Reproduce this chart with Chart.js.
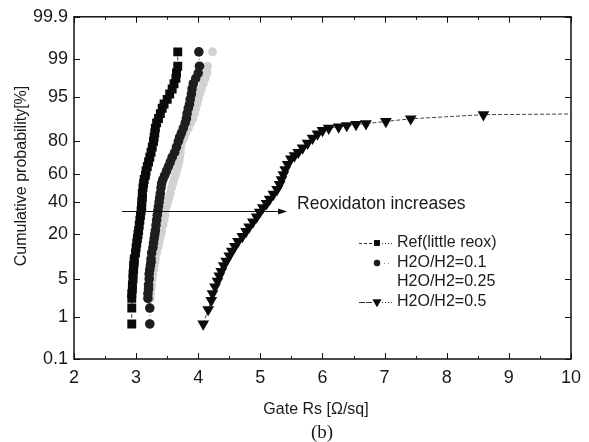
<!DOCTYPE html>
<html>
<head>
<meta charset="utf-8">
<script src="https://cdn.jsdelivr.net/npm/chart.js@4.4.1/dist/chart.umd.min.js"></script>
<style>
  html, body { margin: 0; padding: 0; background: #fff; }
  #wrap { width: 589px; height: 442px; }
</style>
</head>
<body>
<div id="wrap"><canvas id="chart" width="589" height="442"></canvas></div>
<script>
// cumulative probability [%] shared by the three narrow distributions
const cumProb = [0.7, 1.5, 2.3, 2.8, 3.4, 4, 5, 6, 7, 8, 9, 10, 12, 14, 16, 18, 20, 22, 25, 28,
  31, 34, 37, 40, 43, 46, 50, 53, 56, 59, 62, 65, 68, 71, 74, 77, 80, 82, 84, 86,
  88, 89.5, 91, 92.5, 93.5, 94.5, 95.5, 96.3, 97, 97.6, 98.1, 98.6, 99.3];

// Gate Rs [ohm/sq]
const rsRef = [2.93, 2.93, 2.93, 2.93, 2.94, 2.94, 2.95, 2.95, 2.96, 2.96, 2.97, 2.97, 2.99, 3.00, 3.01, 3.02, 3.03, 3.04, 3.05, 3.06,
  3.07, 3.08, 3.09, 3.09, 3.10, 3.10, 3.11, 3.12, 3.13, 3.15, 3.16, 3.18, 3.20, 3.22, 3.24, 3.26, 3.28, 3.29, 3.30, 3.31,
  3.33, 3.36, 3.39, 3.42, 3.45, 3.50, 3.54, 3.58, 3.61, 3.64, 3.65, 3.67, 3.67];
const rsH01 = [3.22, 3.22, 3.19, 3.19, 3.20, 3.20, 3.21, 3.21, 3.22, 3.23, 3.24, 3.24, 3.25, 3.27, 3.28, 3.29, 3.30, 3.31, 3.32, 3.33,
  3.34, 3.35, 3.36, 3.37, 3.38, 3.39, 3.40, 3.41, 3.43, 3.46, 3.49, 3.52, 3.55, 3.58, 3.62, 3.65, 3.68, 3.70, 3.73, 3.76,
  3.79, 3.81, 3.82, 3.84, 3.86, 3.87, 3.89, 3.90, 3.92, 3.96, 4.00, 4.02, 4.01];
const rsH025 = [3.22, 3.22, 3.23, 3.23, 3.24, 3.25, 3.26, 3.27, 3.28, 3.29, 3.30, 3.31, 3.33, 3.35, 3.37, 3.38, 3.40, 3.41, 3.43, 3.45,
  3.46, 3.47, 3.49, 3.51, 3.53, 3.55, 3.57, 3.59, 3.61, 3.63, 3.65, 3.67, 3.69, 3.70, 3.71, 3.72, 3.74, 3.77, 3.80, 3.84,
  3.88, 3.91, 3.94, 3.96, 3.98, 4.00, 4.02, 4.05, 4.08, 4.11, 4.14, 4.15, 4.23];

// H2O/H2=0.5 has its own probability levels (tail runs past 10 ohm/sq)
const cumProbH05 = [0.7, 1.4, 2.1, 2.8, 3.7, 4.6, 5.6, 6.6, 8, 9.3, 11, 12.7, 14.5, 16.7, 19, 21.6, 24, 27, 30, 33,
  36, 39, 42, 45.5, 49, 52.5, 56, 59.5, 63, 66.5, 70, 72, 74, 76.5, 79, 81.5, 83.5, 85, 86, 86.5,
  87, 87.4, 87.7, 88.5, 89.4, 90.7, 91.2];
const rsH05 = [4.08, 4.16, 4.21, 4.23, 4.27, 4.31, 4.34, 4.37, 4.41, 4.45, 4.50, 4.54, 4.59, 4.64, 4.71, 4.77, 4.82, 4.88, 4.94, 4.99,
  5.04, 5.10, 5.15, 5.21, 5.27, 5.31, 5.34, 5.37, 5.40, 5.44, 5.49, 5.55, 5.61, 5.68, 5.76, 5.84, 5.92, 6.00, 6.10, 6.26,
  6.39, 6.54, 6.70, 7.02, 7.42, 8.59, 12.0];

const yTickProbs = [0.1, 1, 5, 20, 40, 60, 80, 95, 99, 99.9];
const seriesNames = ['Ref(little reox)', 'H2O/H2=0.1', 'H2O/H2=0.25', 'H2O/H2=0.5'];
const arrowFrom = 2.77, arrowTo = 5.43, arrowProb = 34;

// inverse normal CDF (Acklam) -> probability axis
function probit(p) {
  const a = [-3.969683028665376e+01, 2.209460984245205e+02, -2.759285104469687e+02, 1.383577518672690e+02, -3.066479806614716e+01, 2.506628277459239e+00];
  const b = [-5.447609879822406e+01, 1.615858368580409e+02, -1.556989798598866e+02, 6.680131188771972e+01, -1.328068155288572e+01];
  const c = [-7.784894002430293e-03, -3.223964580411365e-01, -2.400758277161838e+00, -2.549732539343734e+00, 4.374664141464968e+00, 2.938163982698783e+00];
  const d = [7.784695709041462e-03, 3.224671290700398e-01, 2.445134137142996e+00, 3.754408661907416e+00];
  const pl = 0.02425;
  if (p < pl) {
    const q = Math.sqrt(-2 * Math.log(p));
    return (((((c[0]*q+c[1])*q+c[2])*q+c[3])*q+c[4])*q+c[5]) / ((((d[0]*q+d[1])*q+d[2])*q+d[3])*q+1);
  }
  if (p > 1 - pl) {
    const q = Math.sqrt(-2 * Math.log(1 - p));
    return -(((((c[0]*q+c[1])*q+c[2])*q+c[3])*q+c[4])*q+c[5]) / ((((d[0]*q+d[1])*q+d[2])*q+d[3])*q+1);
  }
  const q = p - 0.5, r = q * q;
  return (((((a[0]*r+a[1])*r+a[2])*r+a[3])*r+a[4])*r+a[5])*q / (((((b[0]*r+b[1])*r+b[2])*r+b[3])*r+b[4])*r+1);
}

const toPoints = (xs, ps) => xs.map((x, i) => ({ x: x, y: probit(ps[i] / 100) }));

const styles = [
  { pointStyle: 'rect', radius: 6.3, color: '#0a0a0a', dash: [4, 2] },
  { pointStyle: 'circle', radius: 4.8, color: '#1e1e1e', dash: [1, 3] },
  { pointStyle: 'circle', radius: 4.5, color: '#d2d2d2', dash: [] },
  { pointStyle: 'triangle', radius: 6.8, color: '#0a0a0a', dash: [4, 2], rotation: 180 }
];

const font = '"Liberation Sans", Arial, sans-serif';

// frame, inward ticks, titles, arrow and legend
const decor = {
  id: 'decor',
  afterDraw(chart) {
    const { ctx, chartArea: a, scales: { x, y } } = chart;
    ctx.save();
    ctx.strokeStyle = '#111';
    ctx.lineWidth = 1.5;
    ctx.strokeRect(a.left, a.top, a.right - a.left, a.bottom - a.top);
    ctx.lineWidth = 1;
    ctx.beginPath();
    for (let v = 2; v <= 10; v += 0.5) {
      const px = Math.round(x.getPixelForValue(v)) + 0.5;
      const len = Number.isInteger(v) ? 6 : 3;
      ctx.moveTo(px, a.bottom); ctx.lineTo(px, a.bottom - len);
      ctx.moveTo(px, a.top); ctx.lineTo(px, a.top + len);
    }
    yTickProbs.forEach(p => {
      const py = Math.round(y.getPixelForValue(probit(p / 100))) + 0.5;
      ctx.moveTo(a.left, py); ctx.lineTo(a.left + 6, py);
      ctx.moveTo(a.right, py); ctx.lineTo(a.right - 6, py);
    });
    ctx.stroke();

    // arrow
    const ay = Math.round(y.getPixelForValue(probit(arrowProb / 100))) + 0.5;
    const ax0 = x.getPixelForValue(arrowFrom), ax1 = x.getPixelForValue(arrowTo);
    ctx.beginPath();
    ctx.moveTo(ax0, ay); ctx.lineTo(ax1 - 6, ay);
    ctx.stroke();
    ctx.fillStyle = '#111';
    ctx.beginPath();
    ctx.moveTo(ax1, ay); ctx.lineTo(ax1 - 9, ay - 3); ctx.lineTo(ax1 - 9, ay + 3);
    ctx.closePath(); ctx.fill();

    ctx.fillStyle = '#1a1a1a';
    ctx.font = '17.5px ' + font;
    ctx.textBaseline = 'middle';
    ctx.textAlign = 'left';
    ctx.fillText('Reoxidaton increases', ax1 + 10, ay - 7);

    // legend
    const rows = [243, 263, 282, 302];
    ctx.font = '16px ' + font;
    rows.forEach((ry, i) => {
      const s = styles[i];
      if (i === 0 || i === 3) {
        ctx.strokeStyle = '#333';
        ctx.lineWidth = 1;
        ctx.setLineDash(i === 0 ? [3, 2] : [6, 1]);
        ctx.beginPath(); ctx.moveTo(359, ry + 0.5); ctx.lineTo(373, ry + 0.5); ctx.stroke();
        ctx.setLineDash([1, 2]);
        ctx.beginPath(); ctx.moveTo(382, ry + 0.5); ctx.lineTo(393, ry + 0.5); ctx.stroke();
        ctx.setLineDash([]);
      }
      if (i === 1) {
        ctx.fillStyle = '#888';
        ctx.fillRect(384, ry, 1, 1); ctx.fillRect(388, ry, 1, 1);
      }
      if (i !== 2) {
        Chart.helpers.drawPoint(ctx, {
          pointStyle: s.pointStyle, radius: i === 0 ? 4 : (i === 3 ? 5 : 3.2),
          rotation: s.rotation || 0, borderWidth: 0
        }, 377, ry);
        ctx.fillStyle = s.color;
        ctx.fill();
      }
      ctx.fillStyle = '#1a1a1a';
      ctx.fillText(seriesNames[i], 397, ry);
    });

    // axis titles and caption
    ctx.textAlign = 'center';
    ctx.font = '16px ' + font;
    ctx.fillText('Gate Rs [\u03A9/sq]', 316, 410);
    ctx.save();
    ctx.translate(22, 176);
    ctx.rotate(-Math.PI / 2);
    ctx.fillText('Cumulative probability[%]', 0, 0);
    ctx.restore();
    ctx.font = '19px "Liberation Serif", "Times New Roman", serif';
    ctx.fillText('(b)', 322, 433);
    ctx.restore();
  }
};

const datasets = [
  [rsRef, cumProb], [rsH01, cumProb], [rsH025, cumProb], [rsH05, cumProbH05]
].map(([xs, ps], i) => {
  const s = styles[i];
  return {
    label: seriesNames[i],
    data: toPoints(xs, ps),
    showLine: i !== 2,
    borderColor: '#444',
    borderWidth: 1,
    borderDash: s.dash,
    pointStyle: s.pointStyle,
    pointRotation: s.rotation || 0,
    pointRadius: s.radius,
    pointBackgroundColor: s.color,
    pointBorderColor: s.color,
    pointBorderWidth: 0,
    pointHoverRadius: s.radius
  };
});

new Chart(document.getElementById('chart'), {
  type: 'scatter',
  data: { datasets: datasets },
  options: {
    responsive: false,
    animation: false,
    layout: { padding: { top: 13, right: 16, bottom: 0, left: 0 } },
    plugins: { legend: { display: false }, tooltip: { enabled: false } },
    scales: {
      x: {
        type: 'linear', min: 2, max: 10,
        afterFit: s => { s.height = 83; },
        grid: { display: false, drawTicks: false },
        border: { display: false },
        ticks: { stepSize: 1, padding: 8, color: '#1a1a1a', font: { family: font, size: 18 } }
      },
      y: {
        type: 'linear', min: probit(0.001), max: probit(0.999),
        afterFit: s => { s.width = 74; },
        afterBuildTicks: s => { s.ticks = yTickProbs.map(p => ({ value: probit(p / 100) })); },
        grid: { display: false, drawTicks: false },
        border: { display: false },
        ticks: {
          autoSkip: false, padding: 6, color: '#1a1a1a', font: { family: font, size: 18 },
          callback: (v, i) => String(yTickProbs[i])
        }
      }
    }
  },
  plugins: [decor]
});
</script>
</body>
</html>
